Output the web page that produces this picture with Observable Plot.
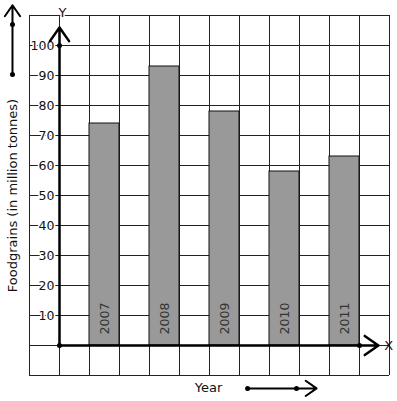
<!DOCTYPE html>
<html>
<head>
<meta charset="utf-8">
<script src="https://cdn.jsdelivr.net/npm/d3@7"></script>
<script src="https://cdn.jsdelivr.net/npm/@observablehq/plot@0.6"></script>
<style>
  html, body { margin: 0; padding: 0; background: #fff; }
  #chart svg { display: block; }
</style>
</head>
<body>
<div id="chart"></div>
<script>
// Data
const years = ["2007", "2008", "2009", "2010", "2011"];
const values = [74, 93, 78, 58, 63];
const yTickLabels = [10, 20, 30, 40, 50, 60, 70, 80, 90, 100];
const gridRows = [-10, 0, 10, 20, 30, 40, 50, 60, 70, 80, 90, 100, 110];
const gridCols = [-1, 0, 1, 2, 3, 4, 5, 6, 7, 8, 9, 10, 11];
const yAxisLabel = "Foodgrains (in million tonnes)";
const xAxisLabel = "Year";

const bars = years.map((y, i) => ({year: y, value: values[i], c1: 2 * i + 1, c2: 2 * i + 2}));

const font = "DejaVu Sans, Verdana, sans-serif";

const chart = Plot.plot({
  width: 397,
  height: 401,
  marginTop: 15,
  marginBottom: 26,
  marginLeft: 29,
  marginRight: 8,
  x: {type: "linear", domain: [-1, 11], axis: null},
  y: {type: "linear", domain: [-10, 110], axis: null},
  style: {background: "#fff", fontFamily: font},
  marks: [
    // grid
    Plot.ruleY(gridRows, {y: d => d, x1: -1, x2: 11, stroke: "#222", strokeWidth: 1, strokeOpacity: 1}),
    Plot.ruleX(gridCols, {x: d => d, y1: -10, y2: 110, stroke: "#222", strokeWidth: 1, strokeOpacity: 1}),
    // bars
    Plot.rect(bars, {x1: "c1", x2: "c2", y1: 0, y2: "value", fill: "#999", stroke: "#111", strokeWidth: 1}),
    // year labels inside bars
    Plot.text(bars, {x: d => (d.c1 + d.c2) / 2, y: 9, text: "year", rotate: -90, fill: "#333", fontSize: 12.5, fontFamily: font}),
    // y tick labels
    Plot.text(yTickLabels, {x: -0.17, y: d => d, text: d => String(d), textAnchor: "end", fill: "#111", fontSize: 12.5, fontFamily: font, stroke: "#fff", strokeWidth: 3}),
    // axes
    Plot.arrow([0], {x1: 0, y1: 0, x2: 0, y2: 106, stroke: "#000", strokeWidth: 2.5, headLength: 10, headAngle: 70, insetEnd: 0, insetStart: 0}),
    Plot.arrow([0], {x1: 0, y1: 0, x2: 10.63, y2: 0, stroke: "#000", strokeWidth: 2.5, headLength: 10, headAngle: 70, insetEnd: 0, insetStart: 0}),
    Plot.dot([[0, 0], [0, 100], [10, 0]], {x: d => d[0], y: d => d[1], r: 2.5, fill: "#000", stroke: null}),
    Plot.text(["Y"], {x: 0.1, y: 110.8, text: d => d, fill: "#111", fontSize: 13, fontFamily: font, stroke: "#fff", strokeWidth: 3}),
    Plot.text(["X"], {x: 10.97, y: 0, text: d => d, fill: "#111", fontSize: 13, fontFamily: font}),
    // y-axis title and its arrow
    Plot.text([yAxisLabel], {x: -1.567, y: 50, text: d => d, rotate: -90, fill: "#111", fontSize: 13, fontFamily: font}),
    Plot.arrow([0], {x1: -1.567, y1: 90.3, x2: -1.567, y2: 113.4, stroke: "#000", strokeWidth: 2, headLength: 10, headAngle: 70, insetEnd: 0, insetStart: 0}),
    Plot.dot([107, 90.3], {x: -1.567, y: d => d, r: 2.5, fill: "#000", stroke: null}),
    // x-axis title and its arrow
    Plot.text([xAxisLabel], {x: 4.97, y: -14, text: d => d, fill: "#111", fontSize: 13, fontFamily: font}),
    Plot.arrow([0], {x1: 6.27, y1: -14.3, x2: 8.57, y2: -14.3, stroke: "#000", strokeWidth: 2, headLength: 10, headAngle: 70, insetEnd: 0, insetStart: 0}),
    Plot.dot([6.27, 7.9], {x: d => d, y: -14.3, r: 2.5, fill: "#000", stroke: null})
  ]
});

document.getElementById("chart").appendChild(chart);
</script>
</body>
</html>
